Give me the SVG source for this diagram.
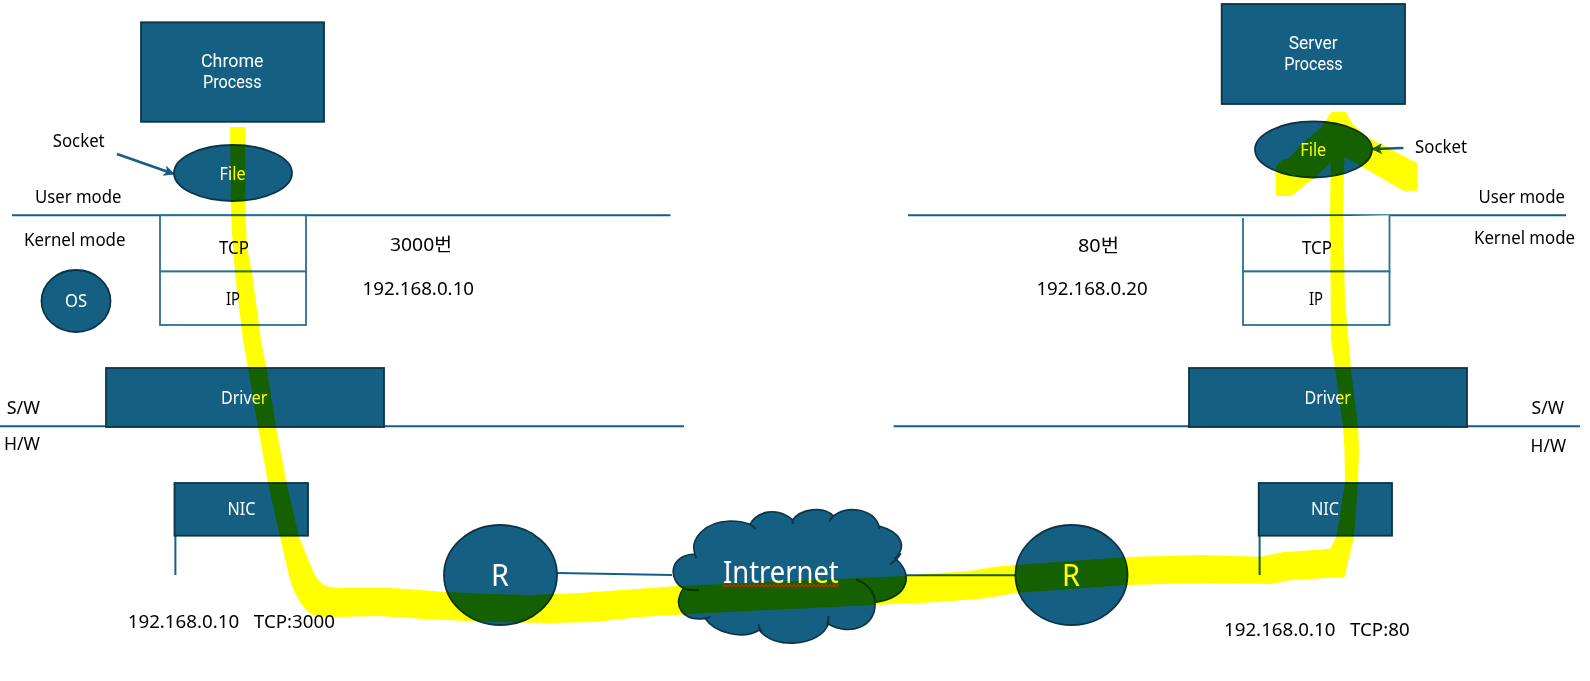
<svg xmlns="http://www.w3.org/2000/svg" width="1590" height="681" viewBox="0 0 1590 681">
<style>
text{font-family:"Noto Sans","Noto Sans CJK KR",sans-serif;font-size:18.5px;fill:#000;white-space:pre}
text.w{fill:#fff}
text.t{font-family:Roboto,"Noto Sans",sans-serif;font-size:17.5px}
.n{fill:#156082;stroke:#0c3448;stroke-width:1.8}
.b{fill:#fff;stroke:#2a7191;stroke-width:1.8}
.l{fill:none;stroke:#156082;stroke-width:2}
.a{fill:none;stroke:#156082;stroke-width:2.6}
.c{fill:none;stroke:#0c3448;stroke-width:6}
#highlight{fill:#ffff00;mix-blend-mode:multiply}
</style>
<defs>
<marker id="arr" viewBox="0 0 8 8" refX="7.5" refY="4" markerWidth="4.2" markerHeight="4.2" orient="auto"><path d="M0,0L8,4L0,8L2,4Z" fill="#156082"/></marker>
<pattern id="squig" width="4" height="4" patternUnits="userSpaceOnUse"><path d="M0,3.2L2,0.8L4,3.2" fill="none" stroke="#d8251c" stroke-width="1.1"/></pattern>
</defs>
<rect width="1590" height="681" fill="#fff"/>
<g id="connectors">
<path class="l" d="M12,215.3H670.5"/>
<path class="l" d="M908,215.3H1566"/>
<path class="l" d="M0,426.3H684"/>
<path class="l" d="M893.6,426.3H1580"/>
<path class="a" d="M117,154L174,174" marker-end="url(#arr)"/>
<path class="a" d="M1403.4,148L1372,149" marker-end="url(#arr)"/>
<path class="l" d="M175.4,536V575"/>
<path class="l" d="M1259.6,536V575"/>
<path class="l" d="M557,573L672,575"/>
<path class="l" d="M906,575.3H1015"/>
</g>
<g id="chrome-process"><rect class="n" x="141" y="22.3" width="183" height="99.5"/><text class="w t" x="201" y="67" textLength="62.5" lengthAdjust="spacingAndGlyphs">Chrome</text><text class="w t" x="203" y="88" textLength="58.5" lengthAdjust="spacingAndGlyphs">Process</text></g>
<g id="server-process"><rect class="n" x="1221.7" y="4" width="183.3" height="100"/><text class="w t" x="1288.7" y="49.3" textLength="49" lengthAdjust="spacingAndGlyphs">Server</text><text class="w t" x="1284.2" y="70" textLength="58.5" lengthAdjust="spacingAndGlyphs">Process</text></g>
<g id="file-left"><ellipse class="n" cx="233" cy="173" rx="59" ry="28"/><text class="w" x="219.6" y="180" textLength="26" lengthAdjust="spacingAndGlyphs">File</text></g>
<g id="file-right"><ellipse class="n" cx="1313.5" cy="149.5" rx="58.5" ry="28"/><text class="w" x="1300.3" y="156" textLength="26" lengthAdjust="spacingAndGlyphs">File</text></g>
<g id="tcp-left"><rect class="b" x="160" y="215.3" width="146" height="56.2"/><text x="219" y="254" textLength="30" lengthAdjust="spacingAndGlyphs">TCP</text></g>
<g id="ip-left"><rect class="b" x="160" y="271.5" width="146" height="53.5"/><text x="226" y="305" textLength="14" lengthAdjust="spacingAndGlyphs">IP</text></g>
<g id="tcp-right"><path class="b" d="M1243,218V271.5H1389.5V215.3"/><text x="1302" y="254" textLength="30" lengthAdjust="spacingAndGlyphs">TCP</text></g>
<g id="ip-right"><rect class="b" x="1243" y="271.5" width="146.5" height="53.5"/><text x="1309" y="305" textLength="14" lengthAdjust="spacingAndGlyphs">IP</text></g>
<g id="os"><ellipse class="n" cx="76" cy="301" rx="34.5" ry="31"/><text class="w" x="65" y="306.7" textLength="22" lengthAdjust="spacingAndGlyphs">OS</text></g>
<g id="driver-left"><rect class="n" x="106" y="368" width="278" height="59"/><text class="w" x="221" y="404" textLength="46.4" lengthAdjust="spacingAndGlyphs">Driver</text></g>
<g id="driver-right"><rect class="n" x="1189" y="368" width="278" height="59"/><text class="w" x="1304.5" y="404" textLength="46.4" lengthAdjust="spacingAndGlyphs">Driver</text></g>
<g id="nic-left"><rect class="n" x="174.5" y="483" width="133.5" height="52.7"/><text class="w" x="227.5" y="515" textLength="28" lengthAdjust="spacingAndGlyphs">NIC</text></g>
<g id="nic-right"><rect class="n" x="1258.7" y="483" width="133.3" height="52.7"/><text class="w" x="1311" y="515" textLength="28" lengthAdjust="spacingAndGlyphs">NIC</text></g>
<g id="router-left"><ellipse class="n" cx="500.5" cy="575" rx="56.5" ry="50"/><text class="w" x="491" y="585.7" style="font-size:31px" textLength="18" lengthAdjust="spacingAndGlyphs">R</text></g>
<g id="router-right"><ellipse class="n" cx="1071.5" cy="575" rx="56" ry="50"/><text class="w" x="1062" y="585.7" style="font-size:31px" textLength="18" lengthAdjust="spacingAndGlyphs">R</text></g>
<g id="internet">
<g transform="translate(640,490) scale(0.3333)">
<path d="M130,295 C85,270 85,195 165,192 C150,150 190,95 270,93 C295,93 315,97 330,103 C350,65 410,48 458,90 C480,58 550,45 580,78 C620,45 700,55 717,108 C780,125 805,165 765,205 C817,245 817,320 705,337 C710,410 630,440 565,402 C540,470 400,480 358,420 C310,450 225,430 195,385 C130,395 95,350 130,295 Z" fill="#156082" stroke="#0c3448" stroke-width="5"/>
<path class="c" d="M130,295Q150,302 177,300M165,192L168,205M330,103Q340,108 347,118M458,90V102M580,78Q572,84 568,95M717,108V118M782,190Q770,212 750,223M648,268C680,280 705,305 705,337M565,378Q566,392 562,405M355,403Q358,415 365,425M195,385Q205,383 212,380"/>
</g>
<text class="w" x="723" y="582.7" style="font-size:31px" textLength="115.7" lengthAdjust="spacingAndGlyphs">Intrernet</text>
<rect x="722.7" y="583.2" width="116" height="4" fill="url(#squig)"/>
</g>
<g id="labels">
<text x="52.7" y="147" textLength="52" lengthAdjust="spacingAndGlyphs">Socket</text>
<text x="1415" y="152.7" textLength="52" lengthAdjust="spacingAndGlyphs">Socket</text>
<text x="35" y="203" textLength="86.5" lengthAdjust="spacingAndGlyphs">User mode</text>
<text x="1478.4" y="203" textLength="86.6" lengthAdjust="spacingAndGlyphs">User mode</text>
<text x="24" y="246" textLength="101.5" lengthAdjust="spacingAndGlyphs">Kernel mode</text>
<text x="1474" y="244" textLength="101" lengthAdjust="spacingAndGlyphs">Kernel mode</text>
<text x="390" y="250.7" textLength="62" lengthAdjust="spacingAndGlyphs">3000번</text>
<text x="1078" y="251.7" textLength="41" lengthAdjust="spacingAndGlyphs">80번</text>
<text x="362.5" y="294.7" textLength="111.6" lengthAdjust="spacingAndGlyphs">192.168.0.10</text>
<text x="1036.4" y="295" textLength="111.2" lengthAdjust="spacingAndGlyphs">192.168.0.20</text>
<text x="6.7" y="414" textLength="33.3" lengthAdjust="spacingAndGlyphs">S/W</text>
<text x="4" y="450" textLength="36" lengthAdjust="spacingAndGlyphs">H/W</text>
<text x="1531.5" y="414" textLength="32.5" lengthAdjust="spacingAndGlyphs">S/W</text>
<text x="1530.6" y="451.7" textLength="35.4" lengthAdjust="spacingAndGlyphs">H/W</text>
<text x="127.7" y="628" textLength="207.3" lengthAdjust="spacingAndGlyphs">192.168.0.10   TCP:3000</text>
<text x="1224" y="636" textLength="185.6" lengthAdjust="spacingAndGlyphs">192.168.0.10   TCP:80</text>
</g>
<path id="highlight" d="M230,127 L231,213 L232,233 L235,273 L243,340 L248,368 L258,427 L268,483 L280,537 L290,580 Q296,598 303.6,607 Q308,613 312.5,615 Q322,617 335,617 L379,616 L424,619 L491,622 L549,623 L594,622 L640,617 L690,614 L873,605 L940,602 L988,598 L1015,593 L1126.6,585 L1202.5,583 L1269.5,584 L1292,580 L1344.5,577 L1354,537 L1358,483 L1359,450 L1358,427 L1351,368 L1348.5,340 L1345,300 L1343,213 L1344.5,157 L1373,173 L1403,190.7 L1417,190.7 L1417,163 L1366.7,136.7 L1351.7,123 L1346,111.7 L1331.7,111.7 L1321.7,126.7 L1303,143 L1288,159 L1281.7,160 L1276,166.7 L1276,196 L1291.7,196 L1314,178 L1330.7,162.7 L1330,213 L1331,340 L1335,368 L1343,427 L1344.5,450 L1345,483 L1336.4,537 L1330,549 L1283,552 L1260.5,556.7 L1202.5,555 L1126.6,557 L1015,565 L993,567 L970,571 L940,573 L905,576 L677,586 L580,593 L531,595 L491,594 L446,592 L393,588 L341.5,588 Q331,588 323.7,585 Q317,580 312.5,570 L299,537 L286.6,483 L276,427 L266.5,368 L261,340 L252,273 L247,247 L245.5,213 L245,127 Z"/>
</svg>
